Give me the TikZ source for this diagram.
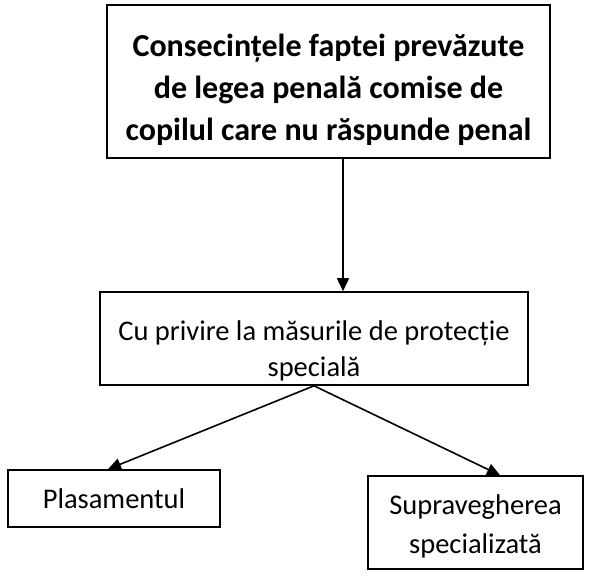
\documentclass[tikz,border=0pt]{standalone}
\usepackage{fontspec}
\setmainfont{Carlito}
\usetikzlibrary{arrows.meta,positioning}

\begin{document}
\begin{tikzpicture}[x=1pt,y=-1pt,line width=1.6pt,>={Triangle[length=13pt,width=12pt]},
    box/.style={draw,inner sep=0pt},
    txt/.style={align=center,inner sep=0pt,font=\fontsize{28.5}{36}\selectfont},
    boldtxt/.style={txt,font=\bfseries\fontsize{32}{42}\selectfont}]

        \useasboundingbox (0,0) rectangle (612,579);

        \node[box,minimum width=443pt,minimum height=153pt,
            label={[boldtxt,yshift=-8pt]center:Consecințele faptei prevăzute\\de legea penală comise de\\copilul care nu răspunde penal}]
            (cons) at (328.5,81.5) {};
        \node[box,minimum width=428pt,minimum height=93pt,
            label={[txt,yshift=-12pt]center:Cu privire la măsurile de protecție\\specială}]
            (prot) at (314,338.5) {};
        \node[box,minimum width=212pt,minimum height=57pt,
            label={[txt]center:Plasamentul}] (plas) at (114,498.5) {};
        \node[box,minimum width=215pt,minimum height=93pt,
            label={[txt,yshift=-4pt,font=\fontsize{28.5}{39}\selectfont]center:Supravegherea\\specializată}]
            (supr) at (475.5,522.5) {};

        \path[->]
        ([xshift=14.5pt]cons.south) edge ([xshift=14.5pt]cons.south |- prot.north)
        (prot.south) edge ([xshift=-6pt]plas.north)
        (prot.south) edge ([xshift=24.5pt]supr.north);

    \end{tikzpicture}
\end{document}
